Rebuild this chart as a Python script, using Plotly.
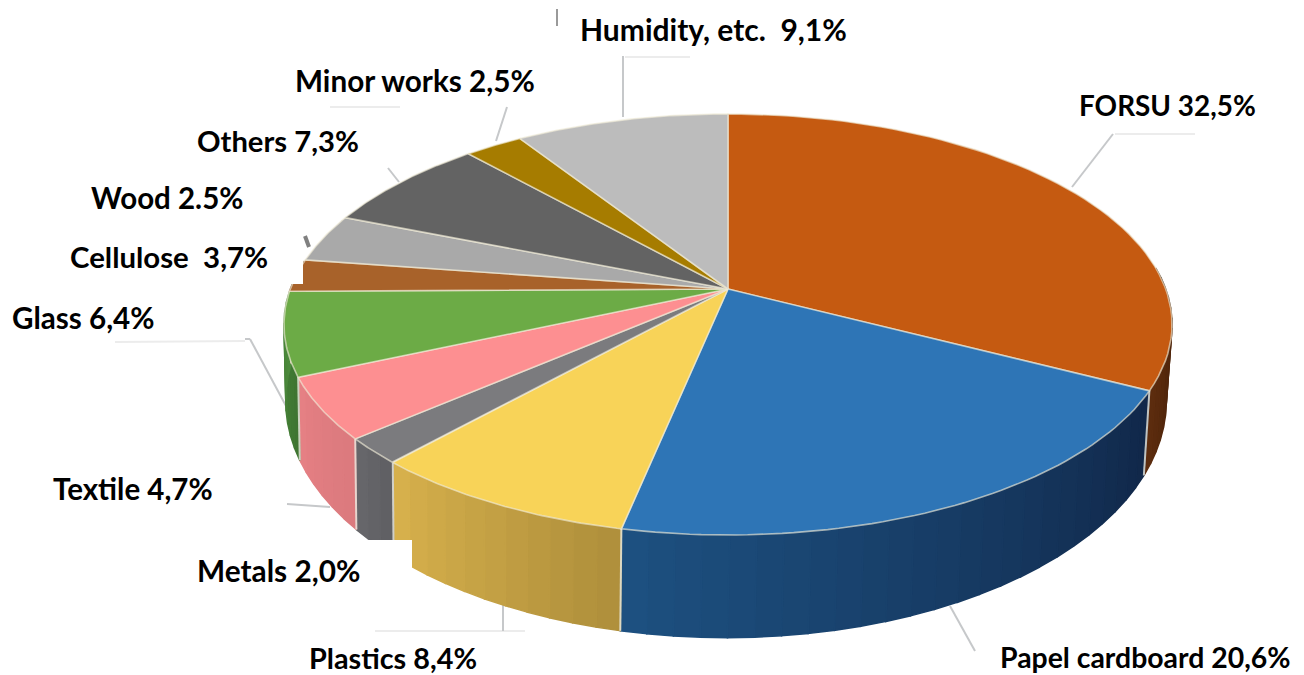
import numpy as np
import plotly.graph_objects as go

# Waste composition, clockwise from the top of the pie
categories = ['FORSU', 'Papel cardboard', 'Plastics', 'Metals', 'Textile', 'Glass',
              'Wood', 'Cellulose', 'Others', 'Minor works', 'Humidity, etc.']
values = [32.5, 20.6, 8.4, 2.0, 4.7, 6.4, 2.5, 3.7, 7.3, 2.5, 9.1]
value_texts = ['32,5%', '20,6%', '8,4%', '2,0%', '4,7%', '6,4%', '2.5%', ' 3,7%', '7,3%', '2,5%', ' 9,1%']

top_colors = ['#c55a11', '#2e75b6', '#f8d358', '#7b7b7e', '#fd8f91', '#6cab46',
              '#a8622a', '#a9a9a9', '#636363', '#a67c00', '#bcbcbc']
wall_left = ['#5c2c0e', '#1d5080', '#d6b04c', '#66666a', '#e58084', '#4c8a3c',
             '#7a4a20', '#808080', '#404040', '#705000', '#808080']
wall_right = ['#3e1d08', '#11284a', '#b0903c', '#606064', '#dc7a7e', '#3f7532',
              '#7a4a20', '#808080', '#404040', '#705000', '#808080']

# left edge and centre line of each label, with the font size that fits its width
label_x = [1079, 1000, 309, 197, 53, 12, 91, 70, 197, 295, 580]
label_y = [106, 658, 659, 571, 489, 318, 198, 257, 141, 81, 30]
label_size = [27.9, 28.4, 28.8, 29.8, 29.5, 29.6, 29.5, 29.4, 29.2, 29.7, 30]

# grey leader lines left over in the picture
leaders = [(1072, 188, 1113, 135), (623, 118, 623, 57), (496, 142, 507, 108),
           (399, 183, 388, 169), (250, 340, 293, 420), (287, 505, 330, 508),
           (503, 605, 503, 632), (950, 607, 975, 652), (245, 340, 250, 340)]
faint_leaders = [(1115, 135, 1195, 135), (625, 58, 690, 58), (115, 343, 245, 342),
                 (375, 632, 525, 632), (330, 108, 400, 108)]


def top_point(deg):
    # perspective view of the upper disc
    t = np.radians(deg)
    d = 1 + 0.1686 * np.cos(t)
    return 728 + 437.7 * np.sin(t) / d, 290 - 204.5 * np.cos(t) / d


def bottom_point(deg):
    t = np.radians(deg)
    d = 1 + 0.1686 * np.cos(t)
    return 726 + 434 * np.sin(t) / d, 362 - 230 * np.cos(t) / d


def mix(c1, c2, f):
    a = [int(c1[i:i + 2], 16) for i in (1, 3, 5)]
    b = [int(c2[i:i + 2], 16) for i in (1, 3, 5)]
    return 'rgb(%d,%d,%d)' % tuple(a[i] + (b[i] - a[i]) * f for i in range(3))


edges = np.cumsum([0] + values) / sum(values) * 360

fig = go.Figure()

# side wall, cut into thin pieces to get the gradient
for i in range(len(values)):
    start, end = max(edges[i], 84), min(edges[i + 1], 278)
    if end <= start:
        continue
    steps = np.linspace(start, end, max(2, int((end - start) / 3) + 2))
    for j in range(len(steps) - 1):
        tx0, ty0 = top_point(steps[j])
        tx1, ty1 = top_point(steps[j + 1])
        bx0, by0 = bottom_point(steps[j])
        bx1, by1 = bottom_point(steps[j + 1])
        # colours run left to right on screen, the wall runs right to left
        col = mix(wall_right[i], wall_left[i], j / max(1, len(steps) - 2))
        fig.add_trace(go.Scatter(x=[tx0, tx1, bx1, bx0, tx0], y=[ty0, ty1, by1, by0, ty0],
                                 mode='lines', fill='toself', fillcolor=col,
                                 line=dict(color=col, width=1.5), hoverinfo='skip'))

# light dividers on the wall
for e in edges[1:7]:
    tx, ty = top_point(e)
    bx, by = bottom_point(e)
    fig.add_trace(go.Scatter(x=[tx, bx], y=[ty, by], mode='lines',
                             line=dict(color='rgba(235,235,225,0.8)', width=2), hoverinfo='skip'))

# top of the pie
for i, name in enumerate(categories):
    arc = np.linspace(edges[i], edges[i + 1], 60)
    xs, ys = top_point(arc)
    fig.add_trace(go.Scatter(x=np.r_[728, xs, 728], y=np.r_[290, ys, 290], mode='lines',
                             fill='toself', fillcolor=top_colors[i], name=name,
                             line=dict(color='rgba(240,235,215,0.65)', width=1.6),
                             hoverinfo='skip'))

shapes = []
for x0, y0, x1, y1 in faint_leaders:
    shapes.append(dict(type='line', x0=x0, y0=y0, x1=x1, y1=y1, layer='below',
                       line=dict(color='#ececec', width=2)))
for x0, y0, x1, y1 in leaders:
    shapes.append(dict(type='line', x0=x0, y0=y0, x1=x1, y1=y1, layer='below',
                       line=dict(color='#c6c8ca', width=2)))
# stray marks by the top labels
shapes.append(dict(type='line', x0=557, y0=10, x1=557, y1=27, layer='below',
                   line=dict(color='#9a9a9a', width=2)))
shapes.append(dict(type='line', x0=305, y0=237, x1=309, y1=248, layer='below',
                   line=dict(color='#808080', width=4)))
# white boxes pasted behind two labels, they hide part of the pie
shapes.append(dict(type='rect', x0=66, y0=241, x1=303, y1=285, layer='above',
                   fillcolor='white', line=dict(width=0)))
shapes.append(dict(type='rect', x0=190, y0=541, x1=412, y1=592, layer='above',
                   fillcolor='white', line=dict(width=0)))

annotations = []
for i, name in enumerate(categories):
    annotations.append(dict(x=label_x[i], y=label_y[i], xanchor='left', yanchor='middle',
                            text=f'{name} {value_texts[i]}', showarrow=False, xshift=-2,
                            font=dict(family='Lato', size=label_size[i], color='black', weight='bold')))

# the page has an 8px body margin, so the figure is smaller and the ranges start at 8
fig.update_layout(width=1296, height=667, margin=dict(l=0, r=0, t=0, b=0),
                  paper_bgcolor='white', plot_bgcolor='white', showlegend=False,
                  xaxis=dict(range=[8, 1304], visible=False),
                  yaxis=dict(range=[676, 9], visible=False),
                  shapes=shapes, annotations=annotations)

fig.write_html("out.html")
